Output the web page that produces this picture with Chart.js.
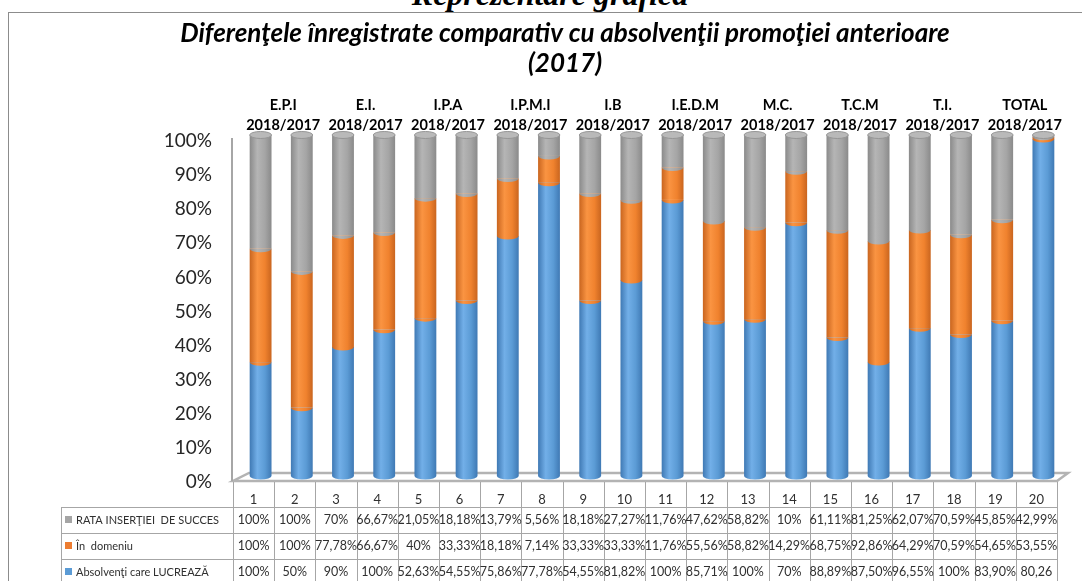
<!DOCTYPE html>
<html>
<head>
<meta charset="utf-8">
<script src="https://cdn.jsdelivr.net/npm/chart.js@4"></script>
<style>
  html, body { margin: 0; padding: 0; background: #fff; }
  #wrap { position: relative; width: 1082px; height: 581px; overflow: hidden; }
  #frame { position: absolute; left: 8px; top: 12px; width: 1100px; height: 600px;
           border-left: 1px solid #8c8c8c; border-top: 1px solid #8c8c8c; }
  #heading { position: absolute; left: 9px; width: 1082px; top: -22px; text-align: center;
             font: italic bold 32px 'Liberation Serif', serif; line-height: 32px; color: #000; }
  canvas { position: absolute; left: 0; top: 0; }
</style>
</head>
<body>
<div id="wrap">
  <div id="heading">Reprezentare grafică</div>
  <div id="frame"></div>
  <canvas id="chart" width="1082" height="581"></canvas>
</div>
<script>
// data table cells, as printed under the chart (col 20 "Absolvenţi" is a plain number, not a %)
const categories = ['1','2','3','4','5','6','7','8','9','10','11','12','13','14','15','16','17','18','19','20'];
const groupNames = ['E.P.I', 'E.I.', 'I.P.A', 'I.P.M.I', 'I.B', 'I.E.D.M', 'M.C.', 'T.C.M', 'T.I.', 'TOTAL'];
const groupPeriod = '2018/2017';

const lucreaza = ['100%','50%','90%','100%','52,63%','54,55%','75,86%','77,78%','54,55%','81,82%',
                  '100%','85,71%','100%','70%','88,89%','87,50%','96,55%','100%','83,90%','80,26'];
const domeniu  = ['100%','100%','77,78%','66,67%','40%','33,33%','18,18%','7,14%','33,33%','33,33%',
                  '11,76%','55,56%','58,82%','14,29%','68,75%','92,86%','64,29%','70,59%','54,65%','53,55%'];
const rata     = ['100%','100%','70%','66,67%','21,05%','18,18%','13,79%','5,56%','18,18%','27,27%',
                  '11,76%','47,62%','58,82%','10%','61,11%','81,25%','62,07%','70,59%','45,85%','42,99%'];

const seriesNames = ['Absolvenţi care LUCREAZĂ', 'În  domeniu', 'RATA INSERŢIEI  DE SUCCES'];

const BLUE = '#5B9BD5', ORANGE = '#ED7D31', GRAY = '#A5A5A5';
const FONT = 'Lato, "Open Sans", sans-serif';

function cellValue(s) {
  const n = parseFloat(s.replace(',', '.'));
  return s.endsWith('%') ? n / 100 : n;
}

// Excel "100% stacked": each column is scaled to its own total
const raw = [lucreaza, domeniu, rata].map(a => a.map(cellValue));
const totals = categories.map((c, i) => raw[0][i] + raw[1][i] + raw[2][i]);
const shares = raw.map(a => a.map((v, i) => v / totals[i] * 100));

// horizontal shading so the flat bars read a bit like the 3D cylinders
function cylinder(dark, light, mid) {
  return (ctx) => {
    const chart = ctx.chart;
    const xs = chart.scales.x;
    if (!chart.chartArea || !xs) return mid;
    const cx = xs.getPixelForValue(ctx.dataIndex);
    const w = (chart.chartArea.right - chart.chartArea.left) / categories.length * 0.53;
    const g = chart.ctx.createLinearGradient(cx - w / 2, 0, cx + w / 2, 0);
    g.addColorStop(0, dark);
    g.addColorStop(0.35, light);
    g.addColorStop(0.7, mid);
    g.addColorStop(1, dark);
    return g;
  };
}

const decor = {
  id: 'decor',
  beforeDatasetsDraw(chart) {
    const { ctx, chartArea: a } = chart;
    ctx.save();
    // floor
    ctx.strokeStyle = '#b3b3b3';
    ctx.lineWidth = 2.5;
    ctx.beginPath();
    ctx.moveTo(a.left - 7, a.bottom + 5);
    ctx.lineTo(a.right - 7, a.bottom + 5);
    ctx.lineTo(a.right + 4, a.bottom - 3);
    ctx.lineTo(a.left + 9, a.bottom - 3);
    ctx.closePath();
    ctx.stroke();
    // value axis line
    ctx.strokeStyle = '#a6a6a6';
    ctx.lineWidth = 2;
    ctx.beginPath();
    ctx.moveTo(a.left - 8, a.top + 3);
    ctx.lineTo(a.left - 8, a.bottom + 5);
    ctx.stroke();
    ctx.restore();
  },
  afterDatasetsDraw(chart) {
    const ctx = chart.ctx;
    ctx.save();
    chart.data.datasets.forEach((ds, di) => {
      const meta = chart.getDatasetMeta(di);
      meta.data.forEach(el => {
        const p = el.getProps(['x', 'y', 'base', 'width'], true);
        // rounded bottom of every segment
        ctx.fillStyle = el.options.backgroundColor;
        ctx.beginPath();
        ctx.ellipse(p.x, p.base, p.width / 2, 3.5, 0, 0, Math.PI);
        ctx.fill();
        if (di === chart.data.datasets.length - 1) {
          ctx.fillStyle = '#b9b9b9';
          ctx.strokeStyle = '#969696';
          ctx.lineWidth = 1;
          ctx.beginPath();
          ctx.ellipse(p.x, p.y, p.width / 2, 3.5, 0, 0, Math.PI * 2);
          ctx.fill();
          ctx.stroke();
        }
      });
    });
    ctx.restore();
  },
  afterDraw(chart) {
    const { ctx, chartArea: a, scales: { x } } = chart;
    ctx.save();
    ctx.fillStyle = '#000';
    ctx.textAlign = 'center';

    // chart title
    ctx.textBaseline = 'alphabetic';
    ctx.font = 'italic bold 26px ' + FONT;
    ctx.fillText('Diferenţele înregistrate comparativ cu absolvenţii promoţiei anterioare', 565, 42);
    ctx.fillText('(2017)', 565, 72);

    // group labels above each pair of columns
    ctx.textBaseline = 'middle';
    ctx.font = 'bold 14.5px ' + FONT;
    groupNames.forEach((g, i) => {
      const cx = (x.getPixelForValue(2 * i) + x.getPixelForValue(2 * i + 1)) / 2 + 2;
      ctx.fillText(g, cx, a.top - 30);
      ctx.fillText(groupPeriod, cx, a.top - 10);
    });

    // data table
    const x0 = a.left - 7;
    const colW = (a.right - a.left) / categories.length;
    const x1 = x0 + colW * categories.length;
    const top = a.bottom + 6;
    const headH = 25, rowH = 26;
    const legendLeft = 61;

    ctx.strokeStyle = '#a6a6a6';
    ctx.lineWidth = 1;
    ctx.beginPath();
    for (let i = 0; i <= categories.length; i++) {
      const lx = Math.round(x0 + i * colW) + 0.5;
      ctx.moveTo(lx, top);
      ctx.lineTo(lx, top + headH + 3 * rowH);
    }
    ctx.moveTo(legendLeft + 0.5, top + headH);
    ctx.lineTo(legendLeft + 0.5, top + headH + 3 * rowH);
    for (let r = 0; r <= 3; r++) {
      const ly = Math.round(top + headH + r * rowH) + 0.5;
      ctx.moveTo(legendLeft, ly);
      ctx.lineTo(x1, ly);
    }
    ctx.stroke();

    ctx.fillStyle = '#303030';
    ctx.font = '13px ' + FONT;
    categories.forEach((c, i) => {
      ctx.fillText(c, x0 + (i + 0.5) * colW, top + 18);
    });

    const rows = [
      { name: seriesNames[2], color: GRAY, cells: rata },
      { name: seriesNames[1], color: ORANGE, cells: domeniu },
      { name: seriesNames[0], color: BLUE, cells: lucreaza },
    ];
    rows.forEach((row, r) => {
      const cy = top + headH + r * rowH + 13;
      ctx.fillStyle = row.color;
      ctx.fillRect(legendLeft + 4, cy - 4, 7, 7);
      ctx.fillStyle = '#303030';
      ctx.textAlign = 'left';
      ctx.font = '11px ' + FONT;
      ctx.fillText(row.name, legendLeft + 15, cy);
      ctx.textAlign = 'center';
      ctx.font = '12.5px ' + FONT;
      row.cells.forEach((v, i) => ctx.fillText(v, x0 + (i + 0.5) * colW, cy));
    });
    ctx.restore();
  }
};

new Chart(document.getElementById('chart'), {
  type: 'bar',
  data: {
    labels: categories,
    datasets: [
      { label: seriesNames[0], data: shares[0], backgroundColor: cylinder('#3F79B4', '#72AFE8', BLUE) },
      { label: seriesNames[1], data: shares[1], backgroundColor: cylinder('#C9651F', '#FA9442', '#F0822E') },
      { label: seriesNames[2], data: shares[2], backgroundColor: cylinder('#8A8A8A', '#B5B5B5', GRAY) },
    ],
  },
  options: {
    responsive: false,
    animation: false,
    devicePixelRatio: 1,
    layout: { padding: { left: 0, top: 135, right: 18, bottom: 105 } },
    datasets: { bar: { barPercentage: 0.53, categoryPercentage: 1, borderWidth: 0 } },
    scales: {
      x: { display: false, stacked: true },
      y: {
        stacked: true,
        min: 0,
        max: 100,
        grid: { display: false, drawTicks: false },
        border: { display: false },
        ticks: {
          stepSize: 10,
          padding: 28,
          labelOffset: 6,
          color: '#262626',
          font: { family: FONT, size: 19 },
          callback: v => v + '%',
        },
        afterFit(s) { s.width = 240; },
      },
    },
    plugins: {
      legend: { display: false },
      tooltip: { enabled: false },
      title: { display: false },
    },
  },
  plugins: [decor],
});
</script>
</body>
</html>
